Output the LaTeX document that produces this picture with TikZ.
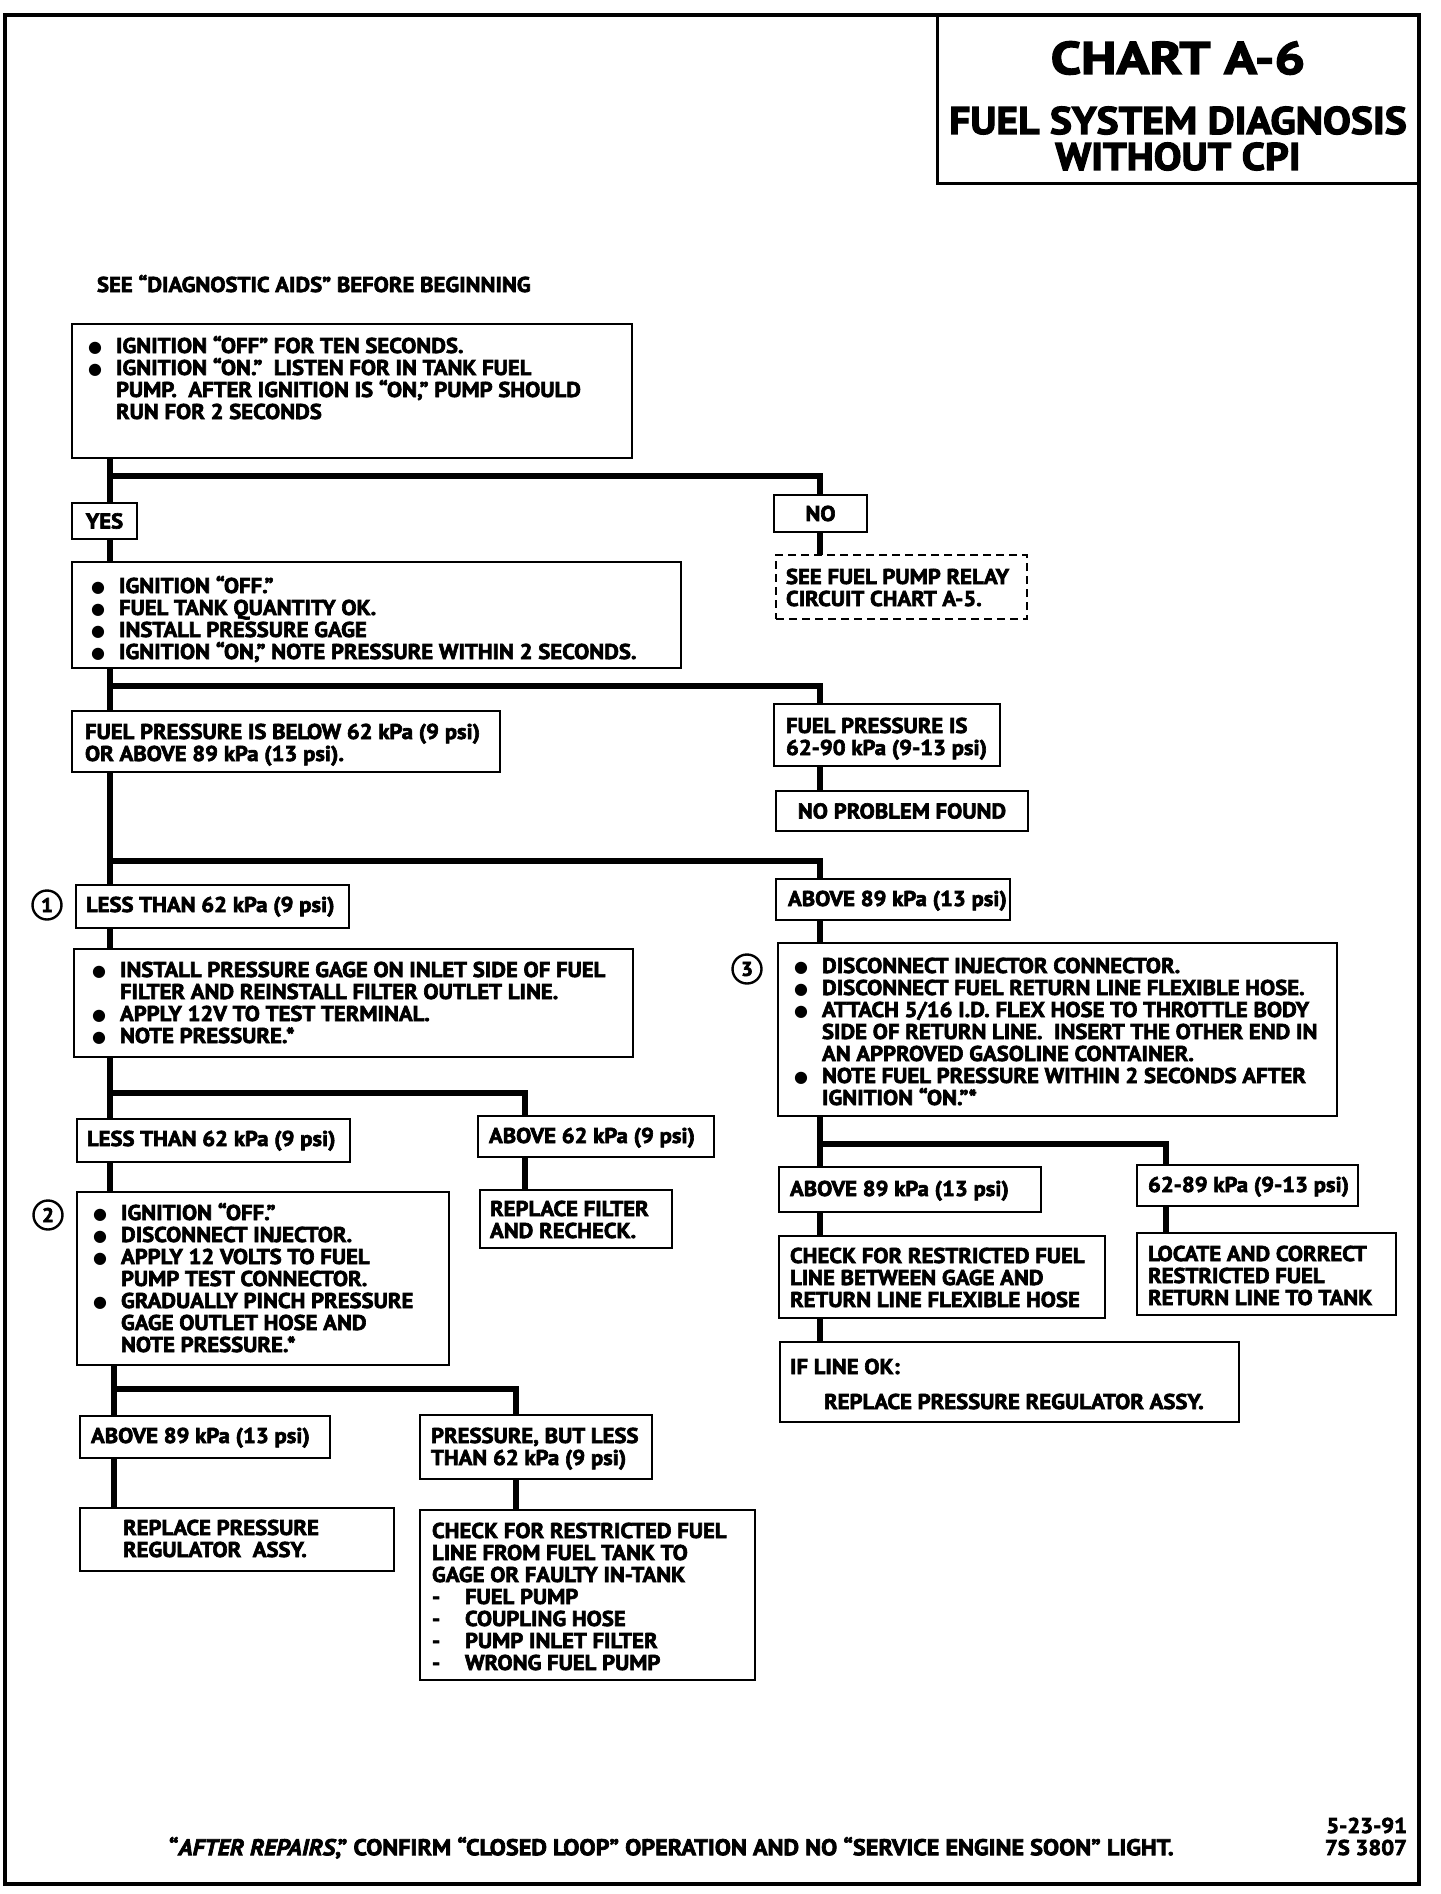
\documentclass[tikz,border=0pt]{standalone}
\usepackage{fontspec}
\setmainfont{PT Sans}[FakeStretch=1.06, FakeBold=3]
\newfontfamily\titleA{PT Sans}[FakeStretch=1.19, FakeBold=3]
\newfontfamily\titleB{PT Sans}[FakeStretch=1.08, FakeBold=3]
\newfontfamily\symfont{DejaVu Sans}
\newcommand\bodyfont{\fontsize{21.4}{22}\selectfont\bfseries}
\newcommand\bul{\makebox[28pt][l]{\raisebox{1pt}{\symfont\fontsize{16}{16}\selectfont ●}}}
\newcommand\ind{\hspace*{28pt}}
\newcommand\dsh{\makebox[33pt][l]{-}}
\newcommand\fst{\rule{0pt}{18pt}}
\tikzset{
  box/.style={draw, line width=2.6pt, rectangle, inner sep=0pt, outer sep=0pt},
  dbox/.style={box, dash pattern=on 8pt off 5pt},
  conn/.style={line width=6pt, line cap=butt, line join=miter},
  txt/.style={anchor=north west, inner sep=0pt, outer sep=0pt, yshift=18pt, align=left, font=\bodyfont},
  ctxt/.style={inner sep=0pt, font=\bodyfont},
  num/.style={circle, draw, line width=2.4pt, minimum size=29pt, inner sep=0pt, font=\fontsize{20}{20}\selectfont\bfseries},
}
% \bx[opts]{name}{x1}{y1}{x2}{y2}
\newcommand\bx[6][]{\node[box,#1,minimum width={#5-#3},minimum height={#6-#4}] (#2) at ({(#3+#5)/2},{(#4+#6)/2}) {};}
\begin{document}
\begin{tikzpicture}[x=1pt,y=-1pt]
\useasboundingbox (0,0) rectangle (1440,1894);
% frame and title
\node[draw, line width=4pt, minimum width=1414pt, minimum height=1869pt, inner sep=0pt] (frame) at (712,949.5) {};
\bx[line width=3pt]{title}{937}{15}{1419}{184}
\node[font=\titleA\fontsize{45.7}{46}\selectfont\bfseries, anchor=base] (t1) at (1178,74) {CHART A-6};
\node[font=\titleB\fontsize{38.5}{39}\selectfont\bfseries, anchor=base] (t2) at (1178,134) {FUEL SYSTEM DIAGNOSIS};
\node[font=\titleB\fontsize{38.5}{39}\selectfont\bfseries, anchor=base] (t3) at (1178,170) {WITHOUT CPI};

\node[txt] (see) at (97,292) {\fst SEE “DIAGNOSTIC AIDS” BEFORE BEGINNING};

% column coordinates
\coordinate (L1) at (110,0);
\coordinate (L2) at (114,0);
\coordinate (R1) at (820,0);
\coordinate (X525) at (525,0);
\coordinate (X516) at (516,0);
\coordinate (X1166) at (1166,0);

% boxes
\bx{b1}{72}{324}{632}{458}
\node[txt] (b1t) at (88,353) {\fst\bul IGNITION “OFF” FOR TEN SECONDS.\\
\bul IGNITION “ON.”~ LISTEN FOR IN TANK FUEL\\
\ind PUMP.~ AFTER IGNITION IS “ON,” PUMP SHOULD\\
\ind RUN FOR 2 SECONDS};

\bx{yes}{72}{503}{137}{539}
\node[ctxt] (yest) at (yes) {YES};
\bx{no}{774}{495}{867}{532}
\node[ctxt] (not) at (no) {NO};
\bx[dbox]{dsh}{776}{555}{1027}{619}
\node[txt] (dsht) at (786,584) {\fst SEE FUEL PUMP RELAY\\CIRCUIT CHART A-5.};

\bx{b2}{72}{562}{681}{668}
\node[txt] (b2t) at (91,593) {\fst\bul IGNITION “OFF.”\\
\bul FUEL TANK QUANTITY OK.\\
\bul INSTALL PRESSURE GAGE\\
\bul IGNITION “ON,” NOTE PRESSURE WITHIN 2 SECONDS.};

\bx{fpl}{72}{711}{500}{772}
\node[txt] (fplt) at (85,739) {\fst FUEL PRESSURE IS BELOW 62 kPa (9 psi)\\OR ABOVE 89 kPa (13 psi).};
\bx{fpr}{774}{704}{1000}{766}
\node[txt] (fprt) at (786,733) {\fst FUEL PRESSURE IS\\62-90 kPa (9-13 psi)};
\bx{npf}{776}{791}{1028}{831}
\node[ctxt] (npft) at (npf) {NO PROBLEM FOUND};

\node[num] (n1) at (47,905) {1};
\bx{lt1}{76}{885}{349}{928}
\node[txt] (lt1t) at (86,912) {\fst LESS THAN 62 kPa (9 psi)};
\bx{ab1}{776}{879}{1010}{920}
\node[txt] (ab1t) at (788,906) {\fst ABOVE 89 kPa (13 psi)};

\bx{b4}{74}{949}{633}{1057}
\node[txt] (b4t) at (92,977) {\fst\bul INSTALL PRESSURE GAGE ON INLET SIDE OF FUEL\\
\ind FILTER AND REINSTALL FILTER OUTLET LINE.\\
\bul APPLY 12V TO TEST TERMINAL.\\
\bul NOTE PRESSURE.*};

\bx{lt2}{77}{1119}{350}{1162}
\node[txt] (lt2t) at (87,1146) {\fst LESS THAN 62 kPa (9 psi)};
\bx{ab62}{478}{1116}{714}{1157}
\node[txt] (ab62t) at (489,1143) {\fst ABOVE 62 kPa (9 psi)};
\bx{rf}{480}{1190}{672}{1248}
\node[txt] (rft) at (490,1216) {\fst REPLACE FILTER\\AND RECHECK.};

\node[num] (n2) at (48,1215) {2};
\bx{b5}{77}{1192}{449}{1365}
\node[txt] (b5t) at (93,1220) {\fst\bul IGNITION “OFF.”\\
\bul DISCONNECT INJECTOR.\\
\bul APPLY 12 VOLTS TO FUEL\\
\ind PUMP TEST CONNECTOR.\\
\bul GRADUALLY PINCH PRESSURE\\
\ind GAGE OUTLET HOSE AND\\
\ind NOTE PRESSURE.*};

\bx{ab89l}{80}{1416}{330}{1458}
\node[txt] (ab89lt) at (91,1443) {\fst ABOVE 89 kPa (13 psi)};
\bx{pbl}{420}{1415}{652}{1479}
\node[txt] (pblt) at (431,1443) {\fst PRESSURE, BUT LESS\\THAN 62 kPa (9 psi)};
\bx{rpr}{80}{1508}{394}{1571}
\node[txt] (rprt) at (123,1535) {\fst REPLACE PRESSURE\\REGULATOR~ ASSY.};
\bx{chk1}{420}{1510}{755}{1680}
\node[txt] (chk1t) at (432,1538) {\fst CHECK FOR RESTRICTED FUEL\\
LINE FROM FUEL TANK TO\\
GAGE OR FAULTY IN-TANK\\
\dsh FUEL PUMP\\
\dsh COUPLING HOSE\\
\dsh PUMP INLET FILTER\\
\dsh WRONG FUEL PUMP};

\node[num] (n3) at (747,969) {3};
\bx{b3}{778}{943}{1337}{1116}
\node[txt] (b3t) at (794,973) {\fst\bul DISCONNECT INJECTOR CONNECTOR.\\
\bul DISCONNECT FUEL RETURN LINE FLEXIBLE HOSE.\\
\bul ATTACH 5/16 I.D. FLEX HOSE TO THROTTLE BODY\\
\ind SIDE OF RETURN LINE.~ INSERT THE OTHER END IN\\
\ind AN APPROVED GASOLINE CONTAINER.\\
\bul NOTE FUEL PRESSURE WITHIN 2 SECONDS AFTER\\
\ind IGNITION “ON.”*};

\bx{ab2}{779}{1167}{1041}{1212}
\node[txt] (ab2t) at (790,1196) {\fst ABOVE 89 kPa (13 psi)};
\bx{r6289}{1137}{1165}{1358}{1206}
\node[txt] (r6289t) at (1148,1192) {\fst 62-89 kPa (9-13 psi)};
\bx{chk2}{779}{1236}{1105}{1318}
\node[txt] (chk2t) at (790,1263) {\fst CHECK FOR RESTRICTED FUEL\\LINE BETWEEN GAGE AND\\RETURN LINE FLEXIBLE HOSE};
\bx{loc}{1137}{1233}{1396}{1315}
\node[txt] (loct) at (1148,1261) {\fst LOCATE AND CORRECT\\RESTRICTED FUEL\\RETURN LINE TO TANK};
\bx{ifok}{780}{1342}{1239}{1422}
\node[txt] (ifokt) at (790,1374) {\fst IF LINE OK:\\[13pt]\hspace*{34pt}REPLACE PRESSURE REGULATOR ASSY.};

% footer
\node[txt, font=\fontsize{22.8}{23}\selectfont\bfseries] (foot) at (169,1855) {\fst “\textit{AFTER REPAIRS},” CONFIRM “CLOSED LOOP” OPERATION AND NO “SERVICE ENGINE SOON” LIGHT.};
\node[txt, anchor=north east, align=right] (date) at (1407,1833) {\fst 5-23-91\\7S 3807};

% junction coordinates
\coordinate (j1) at (110,476);
\coordinate (j2) at (110,686);
\coordinate (j3) at (110,861);
\coordinate (j4) at (110,1093);
\coordinate (j5) at (114,1389);
\coordinate (j6) at (820,1144);

% connectors
\draw[conn] (b1.south -| L1) -- (yes.north -| L1);
\draw[conn] (j1) -| (no.north -| R1);
\draw[conn] (no.south -| R1) -- (dsh.north -| R1);
\draw[conn] (yes.south -| L1) -- (b2.north -| L1);
\draw[conn] (b2.south -| L1) -- (fpl.north -| L1);
\draw[conn] (j2) -| (fpr.north -| R1);
\draw[conn] (fpr.south -| R1) -- (npf.north -| R1);
\draw[conn] (fpl.south -| L1) -- (lt1.north -| L1);
\draw[conn] (j3) -| (ab1.north -| R1);
\draw[conn] (lt1.south -| L1) -- (b4.north -| L1);
\draw[conn] (b4.south -| L1) -- (lt2.north -| L1);
\draw[conn] (j4) -| (ab62.north -| X525);
\draw[conn] (ab62.south -| X525) -- (rf.north -| X525);
\draw[conn] (lt2.south -| L1) -- (b5.north -| L1);
\draw[conn] (b5.south -| L2) -- (ab89l.north -| L2);
\draw[conn] (j5) -| (pbl.north -| X516);
\draw[conn] (ab89l.south -| L2) -- (rpr.north -| L2);
\draw[conn] (pbl.south -| X516) -- (chk1.north -| X516);
\draw[conn] (ab1.south -| R1) -- (b3.north -| R1);
\draw[conn] (b3.south -| R1) -- (ab2.north -| R1);
\draw[conn] (j6) -| (r6289.north -| X1166);
\draw[conn] (r6289.south -| X1166) -- (loc.north -| X1166);
\draw[conn] (ab2.south -| R1) -- (chk2.north -| R1);
\draw[conn] (chk2.south -| R1) -- (ifok.north -| R1);
\end{tikzpicture}
\end{document}
